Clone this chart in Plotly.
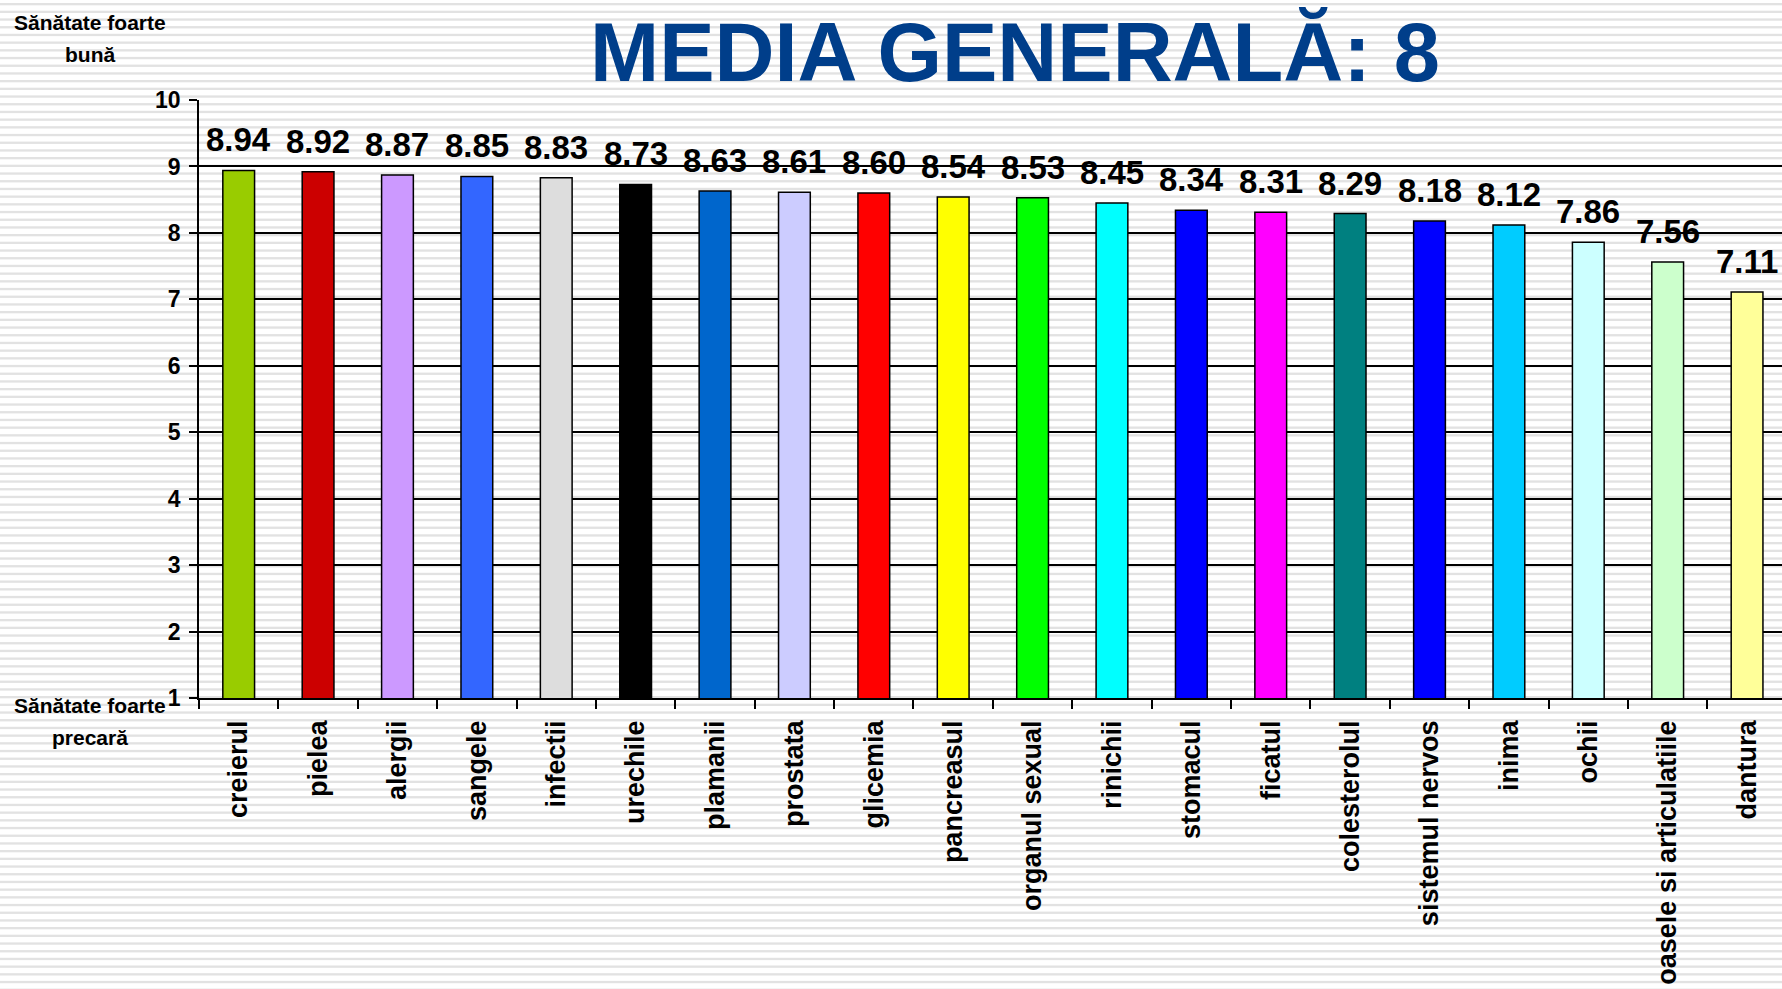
import base64
import plotly.graph_objects as go

categories = ["creierul", "pielea", "alergii", "sangele", "infectii", "urechile",
              "plamanii", "prostata", "glicemia", "pancreasul", "organul sexual",
              "rinichii", "stomacul", "ficatul", "colesterolul", "sistemul nervos",
              "inima", "ochii", "oasele si articulatiile", "dantura"]
values = [8.94, 8.92, 8.87, 8.85, 8.83, 8.73, 8.63, 8.61, 8.60, 8.54, 8.53,
          8.45, 8.34, 8.31, 8.29, 8.18, 8.12, 7.86, 7.56, 7.11]
bar_colors = ["#99CC00", "#CC0000", "#CC99FF", "#3366FF", "#DDDDDD", "#000000",
              "#0066CC", "#CCCCFF", "#FF0000", "#FFFF00", "#00FF00", "#00FFFF",
              "#0000FF", "#FF00FF", "#008080", "#0000FF", "#00CCFF", "#CCFFFF",
              "#CCFFCC", "#FFFF99"]
y_ticks = [1, 2, 3, 4, 5, 6, 7, 8, 9, 10]
title_text = "MEDIA GENERALĂ: 8"
top_label = ["Sănătate foarte", "bună"]
bottom_label = ["Sănătate foarte", "precară"]

W, H = 1782, 989
ML, MR, MT, MB = 199, 0, 100, 291
PW, PH = W - ML - MR, H - MT - MB

FONT = "Arial, 'Liberation Sans', sans-serif"

# striped background (decorative)
period = 7.7
rects = []
yy = 3.0
while yy < H:
    rects.append(f'<rect x="0" y="{yy:.2f}" width="{W}" height="2.3" fill="#e2e2e2"/>')
    yy += period
svg = (f'<svg xmlns="http://www.w3.org/2000/svg" width="{W}" height="{H}" '
       f'viewBox="0 0 {W} {H}" preserveAspectRatio="none">'
       f'<rect width="{W}" height="{H}" fill="#ffffff"/>' + "".join(rects) + '</svg>')
svg_uri = "data:image/svg+xml;base64," + base64.b64encode(svg.encode()).decode()

fig = go.Figure()
fig.add_trace(go.Bar(
    x=categories, y=values, width=0.4,
    marker=dict(color=bar_colors, line=dict(color="#000000", width=1.5)),
    hoverinfo="x+y", cliponaxis=False,
))

for c, v in zip(categories, values):
    fig.add_annotation(x=c, y=v, text=f"<b>{v:.2f}</b>", showarrow=False,
                       xanchor="center", yanchor="bottom", yshift=10,
                       font=dict(family=FONT, size=33, color="#000000"))

def py(pix):
    return (H - MB - pix) / PH

def px(pix):
    return (pix - ML) / PW

for txt, ypix in [(top_label[0], 23), (top_label[1], 55),
                  (bottom_label[0], 705), (bottom_label[1], 737)]:
    fig.add_annotation(xref="paper", yref="paper", x=px(90), y=py(ypix),
                       text=f"<b>{txt}</b>", showarrow=False,
                       xanchor="center", yanchor="middle",
                       font=dict(family=FONT, size=21, color="#000000"))

fig.add_annotation(xref="paper", yref="paper", x=px(1015), y=py(53),
                   text=f"<b>{title_text}</b>", showarrow=False,
                   xanchor="center", yanchor="middle",
                   font=dict(family=FONT, size=83, color="#003E8A"))

fig.add_layout_image(dict(
    source=svg_uri, xref="paper", yref="paper",
    x=-ML / PW, y=1 + MT / PH, sizex=W / PW, sizey=H / PH,
    xanchor="left", yanchor="top", sizing="stretch", layer="below",
))

fig.update_layout(
    width=W, height=H,
    margin=dict(l=ML, r=MR, t=MT, b=MB, pad=0),
    paper_bgcolor="#ffffff", plot_bgcolor="rgba(0,0,0,0)",
    showlegend=False,
    font=dict(family=FONT, color="#000000"),
)
fig.update_xaxes(
    type="category", range=[-0.5, 19.44],
    tickson="boundaries", ticks="outside", ticklen=9, tickcolor="#000000", tickwidth=1.5,
    showline=True, linecolor="#000000", linewidth=1.5,
    showgrid=False, tickangle=-90, ticklabelstandoff=10,
    tickfont=dict(family=FONT, size=27, color="#000000", weight="bold"),
)
fig.update_yaxes(
    range=[1, 10], tickvals=y_ticks, ticktext=[str(t) for t in y_ticks],
    ticks="outside", ticklen=8, tickcolor="#000000", tickwidth=1.5,
    showline=True, linecolor="#000000", linewidth=1.5,
    showgrid=True, gridcolor="#000000", gridwidth=1.5, zeroline=False,
    ticklabelstandoff=4,
    tickfont=dict(family=FONT, size=23, color="#000000", weight="bold"),
)

fig.write_html("out.html", config={"displayModeBar": False},
               post_script="document.body.style.margin='0';document.body.style.overflow='hidden';")
